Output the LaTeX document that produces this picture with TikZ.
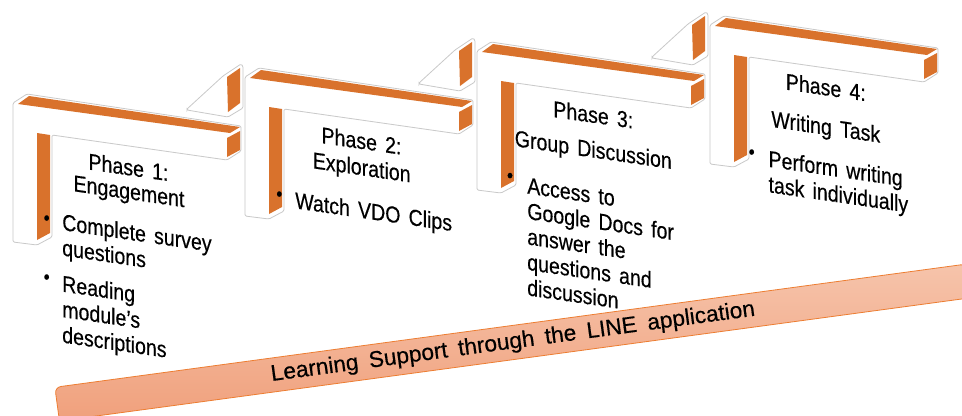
\documentclass[tikz,border=0pt]{standalone}
\usepackage{fontspec}
\setmainfont[FakeStretch=0.85,WordSpace=1.5,FakeBold=0.4]{Liberation Sans}
\newfontfamily\bannerfont[WordSpace=1.7,FakeBold=0.4]{Liberation Sans}
\definecolor{phaseorange}{HTML}{D9722C}
\definecolor{bannertop}{HTML}{F6C4AB}
\definecolor{bannerbot}{HTML}{F0A07C}
\definecolor{bannerline}{HTML}{ED7D31}
\definecolor{edgegray}{HTML}{C9C9C9}
\tikzset{
  silhouette/.style={fill=white, draw=edgegray, line width=0.6pt, rounded corners=1pt},
  face/.style={fill=phaseorange},
  phasetext/.style={inner sep=0pt, yslant=-0.145, font=\fontsize{17.25}{19.1}\selectfont},
  titletext/.style={phasetext, anchor=base},
  bullettext/.style={phasetext, align=left, anchor=base west},
  bulletdot/.style={inner sep=0pt, font=\fontsize{15}{15}\selectfont},
  banner/.style={rotate=7.7, minimum width=690pt, minimum height=25.5pt,
    rounded corners=4.5pt, top color=bannertop, bottom color=bannerbot,
    draw=bannerline, line width=0.6pt, inner sep=0pt,
    font=\bannerfont\fontsize{17}{18}\selectfont},
  phaseshape/.pic={
    \path[silhouette] (0,0) -- (14,-9) -- (228,23) -- (228,48) -- (214,57) -- (39,32)
      -- (39,134) -- (24,142) -- (0,139) -- cycle;
    \fill[face] (5,1) -- (16,-7) -- (227,24) -- (217,30) -- cycle;
    \fill[face] (214,35) -- (227,28) -- (227,47) -- (214,54) -- cycle;
    \fill[face] (24,30) -- (37,32) -- (37,130) -- (24,137) -- cycle;
  },
  flapshape/.pic={
    \path[silhouette] (-58,32) -- (-22,-1) -- (-4,-13) -- (-2,-11) -- (-2,31)
      -- (-17,40) -- (-58,33) -- cycle;
    \fill[face] (-18,0) -- (-5,-9) -- (-5,26) -- (-17,35) -- cycle;
  }
}
\begin{document}
\begin{tikzpicture}[x=0.75pt, y=-0.75pt]
\useasboundingbox (0,0) rectangle (962,415);
\clip (0,0) rectangle (962,415);
\fill[white] (0,0) rectangle (962,415);

% flaps
\pic at (245,77) {flapshape};
\pic at (477,51) {flapshape};
\pic at (710,25) {flapshape};
% phase shapes
\pic at (13,103) {phaseshape};
\pic at (245,77) {phaseshape};
\pic at (477,51) {phaseshape};
\pic at (710,25) {phaseshape};

% banner
\node[banner] (bn) at (513,342.5) {Learning Support through the LINE application};

% phase 1 (multi-line nodes are anchored at the baseline of their last line)
\node[titletext] (t1a) at (128.5,175.3) {Phase 1:};
\node[titletext] (t1b) at (129,199.2) {Engagement};
\node[bulletdot] (d1a) at (46.7,220) {•};
\node[bullettext] (b1a) at (62,255.5) {Complete survey\\questions};
\node[bulletdot] (d1b) at (46.7,279) {•};
\node[bullettext] (b1b) at (62,342.5) {Reading\\module’s\\descriptions};

% phase 2
\node[titletext] (t2a) at (361.5,148.9) {Phase 2:};
\node[titletext] (t2b) at (361.7,175.3) {Exploration};
\node[bulletdot] (d2) at (279.3,196) {•};
\node[bullettext] (b2) at (295,208.3) {Watch VDO Clips};

% phase 3
\node[titletext] (t3a) at (593.3,122.8) {Phase 3:};
\node[titletext] (t3b) at (593.3,157.6) {Group Discussion};
\node[bulletdot] (d3) at (510,177.5) {•};
\node[bullettext] (b3) at (527,295.3) {Access to\\Google Docs for\\answer the\\questions and\\discussion};

% phase 4
\node[titletext] (t4a) at (825.8,95.4) {Phase 4:};
\node[titletext] (t4b) at (825.8,134.8) {Writing Task};
\node[bulletdot] (d4) at (751.7,154) {•};
\node[bullettext] (b4) at (768.3,192.2) {Perform writing\\task individually};
\end{tikzpicture}
\end{document}
